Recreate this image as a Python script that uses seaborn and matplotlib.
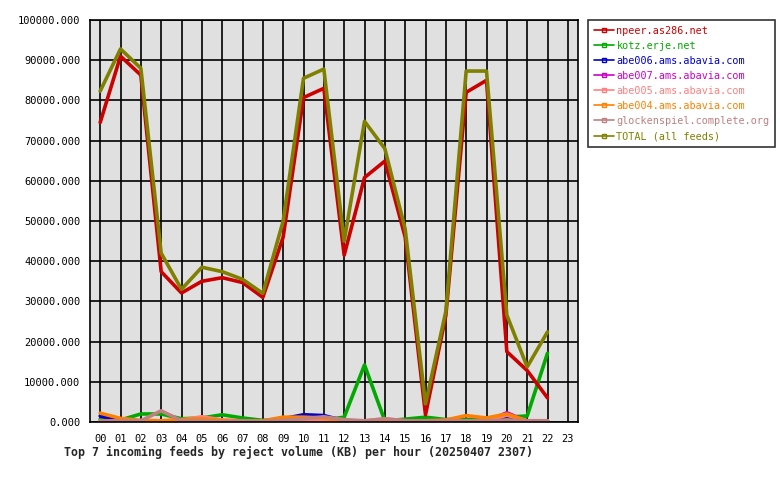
import matplotlib
matplotlib.use("Agg")
import matplotlib.pyplot as plt
import matplotlib.lines as mlines
import pandas as pd
import seaborn as sns

# Hours shown on the x axis
hours = ["00", "01", "02", "03", "04", "05", "06", "07", "08", "09", "10", "11",
         "12", "13", "14", "15", "16", "17", "18", "19", "20", "21", "22", "23"]

# Reject volume (KB) per hour, 00..22
npeer = [74500, 91000, 86300, 37400, 32100, 35000, 35900, 34700, 31000, 46000, 80700, 83000,
         41500, 60800, 64900, 46000, 1800, 26500, 82000, 85000, 17500, 12800, 6000]
kotz = [700, 500, 2000, 2000, 800, 1000, 1800, 1000, 400, 600, 500, 500,
        1200, 14200, 300, 700, 1200, 600, 600, 700, 1200, 1500, 17100]
abe006 = [1500, 400, 300, 200, 200, 200, 200, 200, 200, 800, 1800, 1600,
          300, 200, 200, 200, 200, 200, 300, 300, 1500, 300, 300]
abe007 = [100, 100, 100, 100, 100, 100, 100, 100, 100, 100, 600, 300,
          100, 100, 100, 100, 100, 100, 100, 100, 2300, 100, 100]
abe005 = [300, 300, 300, 300, 500, 1300, 500, 300, 200, 300, 300, 300,
          200, 200, 800, 300, 300, 300, 300, 300, 1700, 300, 300]
abe004 = [2200, 900, 400, 300, 600, 800, 400, 300, 300, 1200, 1200, 1000,
          300, 300, 500, 300, 300, 500, 1600, 1000, 2000, 300, 300]
glocken = [300, 300, 300, 2800, 300, 300, 100, 300, 200, 400, 800, 1300,
           600, 300, 800, 300, 300, 300, 300, 300, 500, 300, 300]
total = [82300, 92800, 88000, 42000, 33000, 38500, 37400, 35500, 32000, 50000, 85500, 87800,
         45000, 74800, 68000, 48000, 4500, 27500, 87300, 87300, 26600, 13700, 22400]

feeds = ["npeer.as286.net", "kotz.erje.net", "abe006.ams.abavia.com", "abe007.ams.abavia.com",
         "abe005.ams.abavia.com", "abe004.ams.abavia.com", "glockenspiel.complete.org",
         "TOTAL (all feeds)"]
series = [npeer, kotz, abe006, abe007, abe005, abe004, glocken, total]
colors = ["#cc0000", "#00aa00", "#0000cc", "#cc00cc", "#ff8080", "#ff8000", "#c08080", "#808000"]

# Long-form table for seaborn
rows = []
for name, vals in zip(feeds, series):
    for h, v in enumerate(vals):
        rows.append({"hour": h, "feed": name, "kb": v})
df = pd.DataFrame(rows)

sns.set_style("white")
plt.rcParams["font.family"] = ["DejaVu Sans Mono", "DejaVu Sans"]

fig = plt.figure(figsize=(7.8, 4.8), dpi=100)
ax = fig.add_axes([90 / 780, 58 / 480, 488 / 780, 402 / 480])
ax.set_facecolor("#e0e0e0")

# Small feeds first, then npeer, then total on top
draw_order = [1, 2, 3, 4, 5, 6, 0, 7]
for i in draw_order:
    sub = df[df["feed"] == feeds[i]]
    sns.lineplot(data=sub, x="hour", y="kb", color=colors[i], linewidth=2.6,
                 ax=ax, legend=False)

ax.set_xlim(-0.5, 23.5)
ax.set_ylim(0, 100000)
ax.set_xticks(range(24))
ax.set_xticklabels(hours)
ax.set_yticks(range(0, 100001, 10000))
ax.set_yticklabels([f"{v}.000" for v in range(0, 100001, 10000)])
ax.grid(True, color="black", linewidth=1.2)
ax.set_axisbelow(True)
for s in ax.spines.values():
    s.set_color("black")
    s.set_linewidth(1.2)
ax.tick_params(axis="both", direction="out", length=4, width=1, color="black",
               labelsize=7.5, labelcolor="black", pad=3)
ax.tick_params(axis="x", pad=5)
ax.set_xlabel("")
ax.set_ylabel("")

fig.text(64 / 780, 1 - 452 / 480, "Top 7 incoming feeds by reject volume (KB) per hour (20250407 2307)",
         fontsize=8.4, fontweight="bold", va="center", ha="left")

# Legend outside on the right
handles = [mlines.Line2D([], [], color=c, linewidth=1.2, marker="s", markersize=3,
                         markerfacecolor="none", markeredgecolor=c) for c in colors]
leg = fig.legend(handles, feeds, loc="upper left", bbox_to_anchor=(588 / 780, 1 - 20 / 480),
                 frameon=True, fancybox=False, edgecolor="black", fontsize=7.3,
                 handlelength=2.0, handletextpad=0.25, labelspacing=0.5, borderpad=0.55,
                 borderaxespad=0)
leg.get_frame().set_linewidth(1.2)
for t, c in zip(leg.get_texts(), colors):
    t.set_color(c)

fig.savefig("out.png", dpi=100)
